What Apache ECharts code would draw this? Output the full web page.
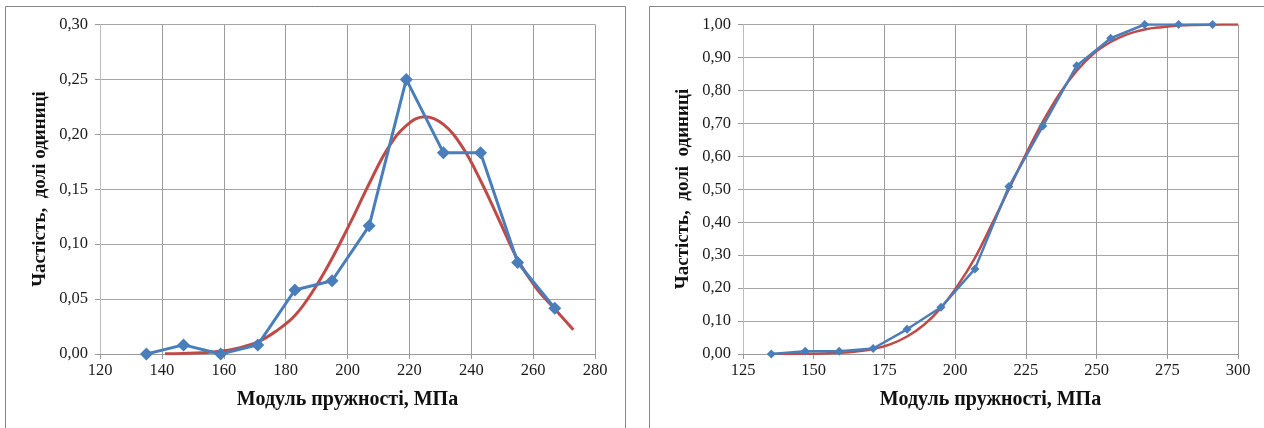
<!DOCTYPE html>
<html>
<head>
<meta charset="utf-8">
<script src="https://cdn.jsdelivr.net/npm/echarts@6/dist/echarts.min.js"></script>
<style>
html,body{margin:0;padding:0;background:#fff;}
#c{width:1264px;height:428px;}
</style>
</head>
<body>
<div id="c"></div>
<script>
// Left chart: frequency polygon
const xLeft = [135,147,159,171,183,195,207,219,231,243,255,267];
const freq = [0,0.0083,0,0.0083,0.0583,0.0667,0.1167,0.25,0.1833,0.1833,0.0833,0.0417];
// Left chart: fitted curve
const fitX = [141,147,153,159,165,171,177,183,189,195,201,207,213,219,225,231,237,243,249,255,261,267,273];
const fitFreq = [0.0002,0.0005,0.0011,0.0026,0.0056,0.011,0.021,0.035,0.058,0.087,0.12,0.155,0.187,0.208,0.216,0.209,0.189,0.158,0.122,0.086,0.060,0.041,0.022];
// Right chart: cumulative frequency
const xRight = [135,147,159,171,183,195,207,219,231,243,255,267,279,291];
const cumFreq = [0,0.0083,0.0083,0.0167,0.075,0.1417,0.2583,0.5083,0.6917,0.875,0.9583,1,1,1];
// Right chart: fitted cumulative curve
const fitCumX = [135,141,147,153,159,165,171,177,183,189,195,201,207,213,219,225,231,237,243,249,255,261,267,273,279,285,291,297,300];
const fitCum = [0.0001,0.0002,0.0006,0.0015,0.0035,0.0075,0.015,0.029,0.053,0.089,0.140,0.209,0.292,0.394,0.50,0.606,0.705,0.791,0.860,0.912,0.947,0.971,0.985,0.992,0.9966,0.9986,0.9994,0.9998,0.9999];

const xTitle = 'Модуль пружності, МПа';
const yTitleLeft = 'Частість,  долі одиниці';
const yTitleRight = 'Частість,  долі  одиниці';

const pair = (xs, ys) => xs.map((x, i) => [x, ys[i]]);
const FONT = '"Liberation Serif","Times New Roman",serif';
const BLUE = '#4a7ebb', RED = '#be4b48';

function xAxis(idx, min, max, interval) {
  return {
    type: 'value', gridIndex: idx, min, max, interval,
    name: xTitle, nameLocation: 'middle', nameGap: 36,
    nameTextStyle: {fontFamily: FONT, fontWeight: 'bold', fontSize: 20, color: '#111'},
    axisLine: {show: true, onZero: false, lineStyle: {color: '#9a9a9a', width: 1}},
    axisTick: {show: true, inside: false, length: 5, lineStyle: {color: '#9a9a9a'}},
    axisLabel: {margin: 8, fontFamily: FONT, fontSize: 16.5, color: '#1a1a1a'},
    splitLine: {show: true, lineStyle: {color: '#9c9c9c', width: 1}}
  };
}
function yAxis(idx, max, interval) {
  return {
    type: 'value', gridIndex: idx, min: 0, max, interval,
    axisLine: {show: true, lineStyle: {color: '#bdbdbd', width: 1}},
    axisTick: {show: true, inside: false, length: 5, lineStyle: {color: '#9a9a9a'}},
    axisLabel: {margin: 12, fontFamily: FONT, fontSize: 16.5, color: '#1a1a1a',
      formatter: v => v.toFixed(2).replace('.', ',')},
    splitLine: {show: true, lineStyle: {color: '#a6a6a6', width: 1}}
  };
}

const chart = echarts.init(document.getElementById('c'), null, {renderer: 'canvas'});
chart.setOption({
  backgroundColor: '#fff',
  animation: false,
  grid: [
    {left: 100, right: 669, top: 24.5, bottom: 74},
    {left: 743, right: 26, top: 24.5, bottom: 74}
  ],
  xAxis: [xAxis(0, 120, 280, 20), xAxis(1, 125, 300, 25)],
  yAxis: [yAxis(0, 0.30, 0.05), yAxis(1, 1.00, 0.10)],
  graphic: [
    {type: 'rect', silent: true, shape: {x: 5.5, y: 6.5, width: 620, height: 440},
      style: {fill: 'none', stroke: '#858585', lineWidth: 1}},
    {type: 'rect', silent: true, shape: {x: 649.5, y: 6.5, width: 700, height: 440},
      style: {fill: 'none', stroke: '#858585', lineWidth: 1}},
    {type: 'text', silent: true, x: 40, y: 189, rotation: Math.PI / 2,
      style: {text: yTitleLeft, font: 'bold 19px ' + FONT, fill: '#111', align: 'center', verticalAlign: 'middle'}},
    {type: 'text', silent: true, x: 683, y: 189, rotation: Math.PI / 2,
      style: {text: yTitleRight, font: 'bold 19px ' + FONT, fill: '#111', align: 'center', verticalAlign: 'middle'}}
  ],
  series: [
    {type: 'line', xAxisIndex: 0, yAxisIndex: 0, data: pair(fitX, fitFreq), smooth: 0.4,
      showSymbol: false, lineStyle: {color: RED, width: 3}, z: 2},
    {type: 'line', xAxisIndex: 0, yAxisIndex: 0, data: pair(xLeft, freq),
      symbol: 'diamond', symbolSize: 13, itemStyle: {color: BLUE},
      lineStyle: {color: BLUE, width: 3}, z: 3},
    {type: 'line', xAxisIndex: 1, yAxisIndex: 1, data: pair(fitCumX, fitCum), smooth: 0.4,
      showSymbol: false, lineStyle: {color: RED, width: 2.5}, z: 2},
    {type: 'line', xAxisIndex: 1, yAxisIndex: 1, data: pair(xRight, cumFreq),
      symbol: 'diamond', symbolSize: 9, itemStyle: {color: BLUE},
      lineStyle: {color: BLUE, width: 2.5}, z: 3}
  ]
});
</script>
</body>
</html>
